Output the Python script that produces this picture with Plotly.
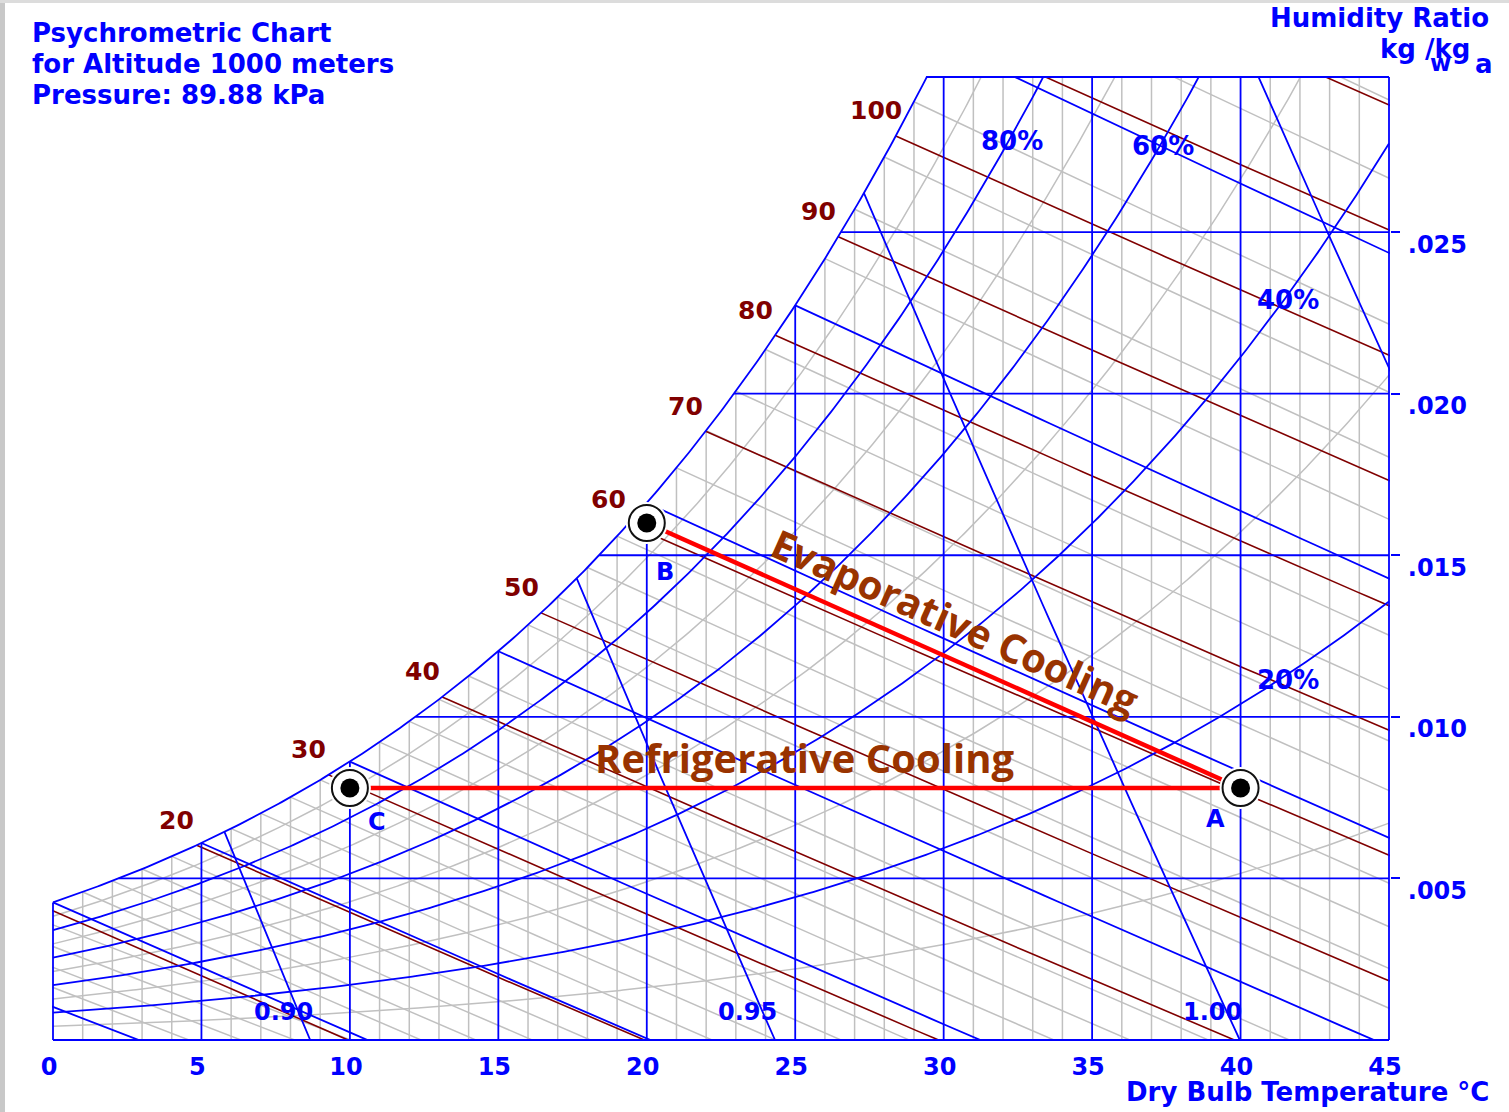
import numpy as np
import plotly.graph_objects as go

# ------------------------------------------------------------------
# Chart data / parameters
# ------------------------------------------------------------------
PRESSURE_KPA = 89.88
R_AIR = 0.287042
T_RANGE = [0.0, 45.0]
W_TOP = 0.0298

DB_MAJOR = [5, 10, 15, 20, 25, 30, 35, 40]
DB_MINOR = [t for t in range(1, 45) if t % 5]
W_MAJOR = [0.005, 0.010, 0.015, 0.020, 0.025]
RH_MAJOR = [20, 40, 60, 80, 100]
RH_MINOR = [10, 30, 50, 70, 90]
WB_MAJOR = [-5, 0, 5, 10, 15, 20, 25, 30]
WB_MINOR = [t for t in range(-4, 35) if t % 5]
H_LINES = [10, 20, 30, 40, 50, 60, 70, 80, 90, 100, 110, 120]
H_LABELS = [20, 30, 40, 50, 60, 70, 80, 90, 100]
V_LINES = [0.90, 0.95, 1.00, 1.05]
V_LABELS = ["0.90", "0.95", "1.00"]
RH_LABELS = [80, 60, 40, 20]
RH_LABEL_T = [32.3, 37.4, 41.6, 41.6]

PT_NAMES = ["A", "B", "C"]
PT_T = [40.0, 20.0, 10.0]
PT_W = [0.0078, 0.0160, 0.0078]

X_TICKS = [0, 5, 10, 15, 20, 25, 30, 35, 40, 45]
X_TICK_TEXT = [str(v) for v in X_TICKS]
Y_TICKS = [0.005, 0.010, 0.015, 0.020, 0.025]
Y_TICK_TEXT = [".005", ".010", ".015", ".020", ".025"]

BLUE = "#0000FF"
DKRED = "#800000"
GRAY = "#C0C0C0"
BROWN = "#993300"
FONT = "DejaVu Sans"

# ------------------------------------------------------------------
# Psychrometric relations
# ------------------------------------------------------------------
P = PRESSURE_KPA


def pws(T):
    T = np.asarray(T, dtype=float)
    TK = T + 273.15
    lw = (-5.8002206e3 / TK + 1.3914993 - 4.8640239e-2 * TK + 4.1764768e-5 * TK ** 2
          - 1.4452093e-8 * TK ** 3 + 6.5459673 * np.log(TK))
    li = (-5.6745359e3 / TK + 6.3925247 - 9.677843e-3 * TK + 6.2215701e-7 * TK ** 2
          + 2.0747825e-9 * TK ** 3 - 9.484024e-13 * TK ** 4 + 4.1635019 * np.log(TK))
    return np.where(T >= 0, np.exp(lw), np.exp(li)) / 1000.0


def w_from_pw(pw):
    return 0.622 * pw / (P - pw)


def ws(T):
    return w_from_pw(pws(T))


def w_rh(T, rh):
    return w_from_pw(rh / 100.0 * pws(T))


def w_wb(T, twb):
    wss = float(ws(twb))
    if twb >= 0:
        return ((2501 - 2.326 * twb) * wss - 1.006 * (T - twb)) / (2501 + 1.86 * T - 4.186 * twb)
    return ((2830 - 0.24 * twb) * wss - 1.006 * (T - twb)) / (2830 + 1.86 * T - 2.1 * twb)


def w_h(T, h):
    return (h - 1.006 * T) / (2501 + 1.86 * T)


def w_v(T, v):
    return (v * P / (R_AIR * (T + 273.15)) - 1) / 1.6078


TT = np.linspace(-10, 60, 14001)
WS_TAB = ws(TT)
HS_TAB = 1.006 * TT + WS_TAB * (2501 + 1.86 * TT)
VS_TAB = R_AIR * (TT + 273.15) * (1 + 1.6078 * WS_TAB) / P


def t_sat_w(w):
    return float(np.interp(w, WS_TAB, TT))


def t_sat_h(h):
    return float(np.interp(h, HS_TAB, TT))


def t_sat_v(v):
    return float(np.interp(v, VS_TAB, TT))


# ------------------------------------------------------------------
# Build line collections
# ------------------------------------------------------------------
class Lines:
    def __init__(self):
        self.x, self.y = [], []

    def add(self, xs, ys):
        self.x += list(np.asarray(xs, float)) + [None]
        self.y += list(np.asarray(ys, float)) + [None]


gray, blue, red = Lines(), Lines(), Lines()
TF = np.arange(0, 45.0001, 0.1)

for t in DB_MINOR:
    gray.add([t, t], [0, float(ws(t))])
for t in DB_MAJOR:
    blue.add([t, t], [0, float(ws(t))])
for rh in RH_MINOR:
    gray.add(TF, w_rh(TF, rh))
for rh in RH_MAJOR:
    blue.add(TF, w_rh(TF, rh))
for twb in WB_MINOR:
    tt = np.linspace(twb, 46, 60)
    gray.add(tt, [w_wb(t, twb) for t in tt])
for twb in WB_MAJOR:
    tt = np.linspace(twb, 46, 60)
    blue.add(tt, [w_wb(t, twb) for t in tt])
for w in W_MAJOR:
    blue.add([t_sat_w(w), 45], [w, w])
for v in V_LINES:
    t0 = v * P / R_AIR - 273.15
    tt = np.linspace(t_sat_v(v), t0, 60)
    blue.add(tt, w_v(tt, v))
for h in H_LINES:
    tt = np.linspace(t_sat_h(h), 70, 120)
    red.add(tt, w_h(tt, h))
blue.add([0, 0], [float(ws(0)), 0])
blue.add([0, 45], [0, 0])
blue.add([45, 45], [0, W_TOP])
blue.add([t_sat_w(W_TOP), 45], [W_TOP, W_TOP])

fig = go.Figure()
for ln, col, wd in [(gray, GRAY, 1.5), (red, DKRED, 1.6), (blue, BLUE, 1.8)]:
    fig.add_trace(go.Scatter(x=ln.x, y=ln.y, mode="lines", line=dict(color=col, width=wd),
                             hoverinfo="skip", showlegend=False))

for j in (1, 2):
    fig.add_trace(go.Scatter(x=[PT_T[0], PT_T[j]], y=[PT_W[0], PT_W[j]], mode="lines",
                             line=dict(color="#FF0000", width=4.5), hoverinfo="skip",
                             showlegend=False))
fig.add_trace(go.Scatter(x=PT_T, y=PT_W, mode="markers", showlegend=False, hoverinfo="skip",
                         marker=dict(size=42, color="white", line=dict(width=0))))
fig.add_trace(go.Scatter(x=PT_T, y=PT_W, mode="markers", showlegend=False, hoverinfo="skip",
                         marker=dict(size=36, color="white", line=dict(width=2, color="#111111"))))
fig.add_trace(go.Scatter(x=PT_T, y=PT_W, mode="markers", showlegend=False, hoverinfo="skip",
                         marker=dict(size=19, color="black", line=dict(width=0))))

# ------------------------------------------------------------------
# Layout geometry (pixels)
# ------------------------------------------------------------------
W_PX, H_PX = 1509, 1112
X_PER_DEG = 1336 / 45.0
Y_PER_W = 963 / W_TOP
dx = 1 / X_PER_DEG
dy = 1 / Y_PER_W
L, R, T, B = 52, W_PX - 1390, 76, H_PX - 1041
PW, PH = W_PX - L - R, H_PX - T - B


def px(xp):
    return (xp - L) / PW


def py(yp):
    return (H_PX - B - yp) / PH


ann = []


def text(x, y, s, size=24, color=BLUE, xanchor="center", yanchor="middle", data=False,
         xshift=0, yshift=0, family=FONT, angle=0, bold=True):
    ann.append(dict(x=x, y=y, text=f"<b>{s}</b>" if bold else s, showarrow=False,
                    xref="x" if data else "paper", yref="y" if data else "paper",
                    xanchor=xanchor, yanchor=yanchor, xshift=xshift, yshift=yshift,
                    textangle=angle, font=dict(family=family, size=size, color=color)))


text(px(30), py(33), "Psychrometric Chart", xanchor="left", size=26)
text(px(30), py(64), "for Altitude 1000 meters", xanchor="left", size=26)
text(px(30), py(95), f"Pressure: {PRESSURE_KPA:.2f} kPa", xanchor="left", size=26)
text(px(1491), py(18), "Humidity Ratio", xanchor="right", size=26)
text(px(1472), py(49), "kg /kg", xanchor="right", size=26)
text(px(1440), py(63), "w", size=23)
text(px(1484), py(64), "a", size=26)
text(px(1491), py(1092), "Dry Bulb Temperature °C", xanchor="right", size=26)

for h in H_LABELS:
    ts = t_sat_h(h)
    text(ts, float(ws(ts)), str(h), color=DKRED, data=True, xshift=-20, yshift=25, size=25)
for rh, tl in zip(RH_LABELS, RH_LABEL_T):
    text(tl, float(w_rh(tl, rh)), f"{rh}%", data=True, yshift=-6, size=26)
for s in V_LABELS:
    v = float(s)
    text(v * P / R_AIR - 273.15, 0, s, data=True, xshift=-27, yshift=28, size=24)
for name, t, w, xs, ys in zip(PT_NAMES, PT_T, PT_W, [-25, 18, 27], [-31, -49, -34]):
    text(t, w, name, data=True, xshift=xs, yshift=ys, size=24)

ang = np.degrees(np.arctan2((PT_W[1] - PT_W[0]) * Y_PER_W, (PT_T[0] - PT_T[1]) * X_PER_DEG))
text((PT_T[0] + PT_T[1]) / 2, (PT_W[0] + PT_W[1]) / 2, "Evaporative Cooling", data=True,
     color=BROWN, size=40, family="Open Sans", xshift=12, yshift=34, angle=float(ang))
text((PT_T[0] + PT_T[2]) / 2, (PT_W[0] + PT_W[2]) / 2, "Refrigerative Cooling", data=True,
     color=BROWN, size=40, family="Open Sans", xshift=10, yshift=30)

shapes = [
    dict(type="rect", xref="paper", yref="paper", x0=px(0), x1=px(5), y0=py(H_PX), y1=py(0),
         fillcolor="#C8C8C8", line=dict(width=0), layer="above"),
    dict(type="rect", xref="paper", yref="paper", x0=px(0), x1=px(W_PX), y0=py(3), y1=py(0),
         fillcolor="#DCDCDC", line=dict(width=0), layer="above"),
]

tickfont = dict(family=FONT + ", sans-serif", size=24, color=BLUE, weight="bold")

fig.update_layout(
    width=W_PX, height=H_PX,
    margin=dict(l=L, r=R, t=T, b=B, autoexpand=False),
    paper_bgcolor="white", plot_bgcolor="white",
    showlegend=False,
    annotations=ann,
    shapes=shapes,
    xaxis=dict(range=[T_RANGE[0] - dx, T_RANGE[1] + dx], showgrid=False, zeroline=False,
               showline=False, tickvals=X_TICKS, ticktext=X_TICK_TEXT, ticks="",
               tickfont=tickfont, ticklabelstandoff=9,
               ticklabelshift=-4, fixedrange=True),
    yaxis=dict(range=[0 - dy, W_TOP + dy], side="right", showgrid=False, zeroline=False,
               showline=False, tickvals=Y_TICKS, ticktext=Y_TICK_TEXT, ticks="outside",
               ticklen=9, tickwidth=2, tickcolor=BLUE,
               tickfont=tickfont, ticklabelstandoff=3,
               ticklabelshift=12, fixedrange=True),
)

fig.write_html("out.html", config={"displayModeBar": False},
               post_script="document.body.style.margin='0';document.body.style.overflow='hidden';")
